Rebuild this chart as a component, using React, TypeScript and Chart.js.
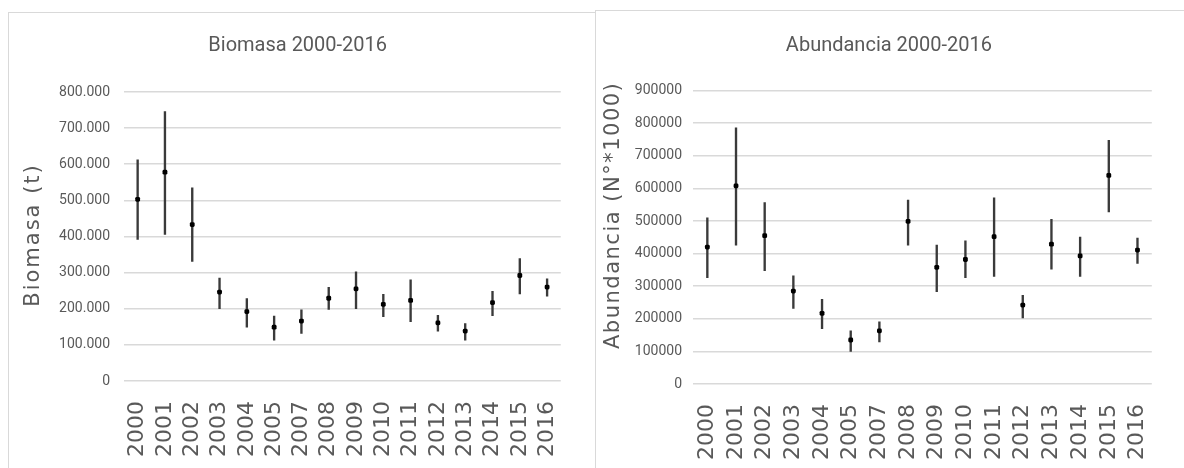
import React, { useEffect, useRef } from "react";
import { Chart, registerables } from "chart.js";

Chart.register(...registerables);

// ---- data ----
const years = ["2000", "2001", "2002", "2003", "2004", "2005", "2007", "2008", "2009", "2010", "2011", "2012", "2013", "2014", "2015", "2016"];

const biomasaMean = [503000, 578000, 433000, 246000, 192000, 149000, 166000, 229000, 255000, 212000, 223000, 161000, 138000, 217000, 292000, 260000];
const biomasaLow = [392000, 406000, 331000, 200000, 149000, 113000, 132000, 198000, 200000, 178000, 164000, 138000, 113000, 181000, 241000, 235000];
const biomasaHigh = [612000, 746000, 535000, 285000, 228000, 180000, 197000, 259000, 302000, 240000, 280000, 182000, 159000, 248000, 339000, 283000];

const abundMean = [420000, 608000, 455000, 285000, 217000, 135000, 163000, 499000, 358000, 382000, 452000, 242000, 429000, 393000, 640000, 411000];
const abundLow = [326000, 426000, 348000, 232000, 170000, 100000, 129000, 426000, 283000, 326000, 330000, 203000, 352000, 330000, 528000, 370000];
const abundHigh = [510000, 786000, 557000, 332000, 260000, 163000, 191000, 564000, 426000, 439000, 571000, 272000, 505000, 451000, 748000, 448000];

const biomasaMax = 800000;
const abundMax = 900000;
const tickStep = 100000;

// ---- styles ----
const GREY = "#595959";
const GRID = "#d9d9d9";
const NARROW = "Roboto, 'Liberation Sans', sans-serif";
const WIDE = "'DejaVu Sans', sans-serif";

const spacedTitle = {
  id: "spacedTitle",
  afterLayout(chart: any, _args: any, opts: any) {
    const s: any = chart.scales.y;
    if (!s || s._spacedWrapped) return;
    const orig = s.drawTitle.bind(s);
    s.drawTitle = function () {
      const ctx = chart.ctx;
      ctx.save();
      (ctx as any).letterSpacing = (opts.spacing || 0) + "px";
      ctx.translate(0, opts.dy || 0);
      orig();
      ctx.restore();
    };
    s._spacedWrapped = true;
  },
};

type Cfg = {
  title: string;
  yTitle: string;
  labels: string[];
  mean: number[];
  low: number[];
  high: number[];
  max: number;
  fmt: (v: number) => string;
  padLeft: number;
  padRight: number;
  padTop: number;
  titlePadBottom: number;
  yWidth: number;
  xHeight: number;
  yTickPad: number;
  xTickPad: number;
  yTitleDy: number;
  yTitleSpacing: number;
  width: number;
  height: number;
};

function ErrorChart(props: Cfg) {
  const ref = useRef<HTMLCanvasElement | null>(null);
  useEffect(() => {
    if (!ref.current) return;
    const ranges = props.low.map((l, i) => [l, props.high[i]]);
    const chart = new Chart(ref.current, {
      type: "bar",
      data: {
        labels: props.labels,
        datasets: [
          {
            type: "line",
            data: props.mean,
            showLine: false,
            pointRadius: 2.8,
            pointStyle: "rectRounded",
            pointBackgroundColor: "#000000",
            pointBorderColor: "#000000",
            pointBorderWidth: 0,
            order: 0,
          } as any,
          {
            type: "bar",
            data: ranges as any,
            backgroundColor: "#3a3a3a",
            borderWidth: 0,
            barThickness: 1.7,
            order: 1,
          },
        ],
      },
      options: {
        animation: false,
        responsive: false,
        maintainAspectRatio: false,
        events: [],
        layout: {
          padding: { left: props.padLeft, right: props.padRight, top: props.padTop, bottom: 0 },
        },
        plugins: {
          legend: { display: false },
          tooltip: { enabled: false },
          title: {
            display: true,
            text: props.title,
            color: GREY,
            font: { family: NARROW, size: 20, weight: "normal" as any, lineHeight: 1.2 },
            padding: { top: 12, bottom: props.titlePadBottom },
          },
          spacedTitle: { spacing: props.yTitleSpacing, dy: props.yTitleDy },
        } as any,
        scales: {
          x: {
            type: "category",
            offset: true,
            grid: { display: false, drawTicks: false },
            border: { display: false },
            ticks: {
              autoSkip: false,
              minRotation: 90,
              maxRotation: 90,
              padding: props.xTickPad,
              color: GREY,
              font: { family: WIDE, size: 22 },
            },
            afterFit: (s: any) => {
              s.height = props.xHeight;
            },
          },
          y: {
            min: 0,
            max: props.max,
            grid: { color: GRID, lineWidth: 1.6, drawTicks: false },
            border: { display: false },
            ticks: {
              stepSize: tickStep,
              padding: props.yTickPad,
              color: GREY,
              font: { family: NARROW, size: 14 },
              callback: (v: any) => props.fmt(Number(v)),
            },
            title: {
              display: true,
              text: props.yTitle,
              color: GREY,
              font: { family: WIDE, size: 21, lineHeight: 1.2 },
              padding: { top: 4, bottom: 4 },
            },
            afterFit: (s: any) => {
              s.width = props.yWidth;
            },
          },
        },
      },
      plugins: [spacedTitle as any],
    });
    return () => chart.destroy();
  }, []);
  return <canvas ref={ref} width={props.width} height={props.height} style={{ display: "block" }} />;
}

const dotFmt = (v: number) => v.toLocaleString("de-DE");
const plainFmt = (v: number) => String(v);

export default function App() {
  return (
    <div style={{ position: "fixed", left: 0, top: 0, width: 1184, height: 468, background: "#ffffff", overflow: "hidden" }}>
      <div
        style={{
          position: "absolute",
          left: 8,
          top: 12,
          width: 587,
          height: 456,
          borderTop: "1px solid #d9d9d9",
          borderLeft: "1px solid #d9d9d9",
          boxSizing: "border-box",
        }}
      >
        <ErrorChart
          title="Biomasa 2000-2016"
          yTitle="Biomasa (t)"
          labels={years}
          mean={biomasaMean}
          low={biomasaLow}
          high={biomasaHigh}
          max={biomasaMax}
          fmt={dotFmt}
          padLeft={8.4}
          padRight={16}
          padTop={9}
          titlePadBottom={34}
          yWidth={106.6}
          xHeight={87}
          yTickPad={14}
          xTickPad={20}
          yTitleDy={-1.5}
          yTitleSpacing={2}
          width={585}
          height={455}
        />
      </div>
      <div
        style={{
          position: "absolute",
          left: 595,
          top: 10,
          width: 589,
          height: 458,
          borderTop: "1px solid #d9d9d9",
          borderLeft: "1px solid #d9d9d9",
          boxSizing: "border-box",
        }}
      >
        <ErrorChart
          title="Abundancia 2000-2016"
          yTitle="Abundancia (N°*1000)"
          labels={years}
          mean={abundMean}
          low={abundLow}
          high={abundHigh}
          max={abundMax}
          fmt={plainFmt}
          padLeft={1.4}
          padRight={3.5}
          padTop={11}
          titlePadBottom={32.7}
          yWidth={95.6}
          xHeight={84}
          yTickPad={11}
          xTickPad={20}
          yTitleDy={-22}
          yTitleSpacing={1.5}
          width={588}
          height={457}
        />
      </div>
    </div>
  );
}
